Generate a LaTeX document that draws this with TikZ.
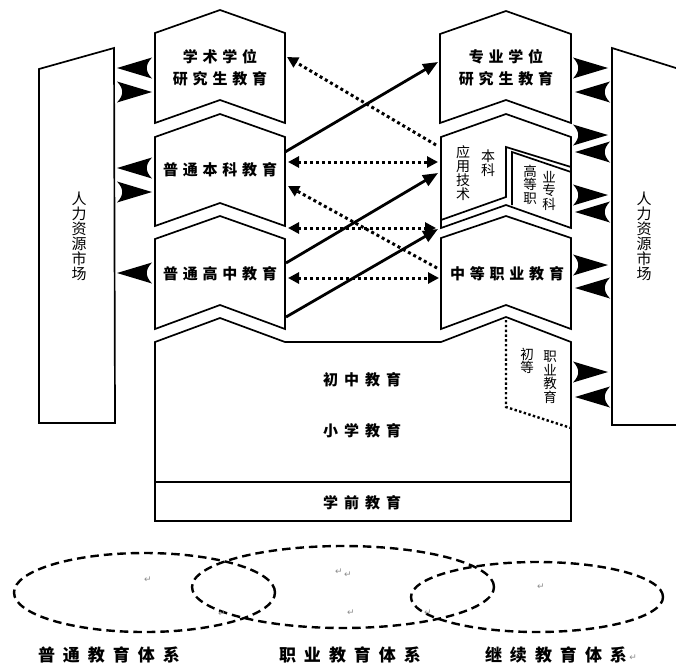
\documentclass[tikz,border=0pt]{standalone}
\usepackage{fontspec}
\newfontfamily\cjk{Noto Sans CJK SC}
\newfontfamily\djv{DejaVu Sans}
\usetikzlibrary{arrows.meta}
\makeatletter
\def\spctext#1#2{\begingroup\def\spc@k{#1}\spc@loop#2\@nil\endgroup}
\def\spc@loop#1#2\@nil{#1\ifx\relax#2\relax\else\kern\spc@k\relax\spc@loop#2\@nil\fi}
\makeatother
\newcommand\mkt[3]{\begin{scope}[shift={(#1,#2)},xscale=#3]\fill (0,0) -- (-35,-10.5) .. controls (-28,-3) and (-28,3) .. (-35,10.5) -- cycle;\end{scope}}
\begin{document}
\begin{tikzpicture}[x=1pt,y=-1pt,
  box/.style={draw,line width=1.7pt,fill=white,line join=miter},
  edge/.style={line width=1.7pt,line join=miter},
  lab/.style={font=\cjk\bfseries\fontsize{15}{18}\selectfont,inner sep=0pt},
  vlab/.style={font=\cjk\fontsize{#1}{#1}\selectfont,inner sep=0pt,align=center},
  solidarr/.style={line width=2.8pt,-{Triangle[length=15pt,width=12pt]}},
  dotline/.style={line width=3pt,dash pattern=on 3pt off 3pt},
  ell/.style={draw,line width=2.4pt,dash pattern=on 8.5pt off 5pt},
  ret/.style={font=\djv\fontsize{9}{10}\selectfont,text=black!45,inner sep=0pt},
  bottomlab/.style={font=\cjk\bfseries\fontsize{17}{20}\selectfont,inner sep=0pt}]
\useasboundingbox (0,0) rectangle (676,667);
\fill[white] (0,0) rectangle (676,667);

% human resource markets
\draw[box] (39,69) -- (114,48) -- (115,423) -- (39,423) -- cycle;
\draw[box] (690,72.4) -- (612,48) -- (612,425) -- (690,425);
\node[vlab=15] (hrl) at (79,236) {\fontsize{15}{17.6}\selectfont 人\\力\\资\\源\\市\\场};
\node[vlab=15] (hrr) at (644,236.5) {\fontsize{15}{17.4}\selectfont 人\\力\\资\\源\\市\\场};

% left column
\draw[box] (155,33) -- (220,10) -- (285,33) -- (285,123) -- (220,100) -- (155,123) -- cycle;
\draw[box] (155,137) -- (220,114) -- (285,137) -- (285,226) -- (220,203) -- (155,226) -- cycle;
\draw[box] (155,239) -- (220,216) -- (285,239) -- (285,329) -- (220,305) -- (155,329) -- cycle;
\node[lab] (xs1) at (220,57) {\spctext{4.8pt}{学术学位}};
\node[lab] (xs2) at (220,79) {\spctext{4.8pt}{研究生教育}};
\node[lab] (bk) at (220,170) {\spctext{4.8pt}{普通本科教育}};
\node[lab] (gz) at (220,274) {\spctext{4.8pt}{普通高中教育}};

% right column
\draw[box] (440,34) -- (506,11) -- (571,34) -- (571,123) -- (506,100) -- (440,123) -- cycle;
\draw[box] (441,137) -- (506,114) -- (571,137) -- (571,228) -- (506,205) -- (441,228) -- cycle;
\draw[edge] (441,220) -- (506,197) -- (506,147) -- (571,167);
\draw[edge] (571,172) -- (512,152) -- (512,205);
\draw[box] (441,238) -- (506,216) -- (571,238) -- (571,329) -- (506,305) -- (441,329) -- cycle;
\node[lab] (zy1) at (506,57) {\spctext{4.8pt}{专业学位}};
\node[lab] (zy2) at (506,79) {\spctext{4.8pt}{研究生教育}};
\node[lab] (zz) at (507,274) {\spctext{4.8pt}{中等职业教育}};
\node[vlab=14] (yy) at (463,173.5) {\fontsize{14}{17.7}\selectfont 应\\用\\技\\术};
\node[vlab=14] (bkk) at (488,163.5) {\fontsize{14}{23}\selectfont 本\\科};
\node[vlab=13.5] (gdz) at (530,184.5) {\fontsize{13.5}{16.2}\selectfont 高\\等\\职};
\node[vlab=13.5] (yzk) at (549,190.5) {\fontsize{13.5}{17.5}\selectfont 业\\专\\科};

% compulsory / preschool block
\draw[box] (155,342) -- (220,318) -- (285,342) -- (441,342) -- (506,317) -- (571,342) -- (571,521) -- (155,521) -- cycle;
\draw[edge] (155,482) -- (571,482);
\draw[line width=2.4pt,dash pattern=on 2.4pt off 2.4pt] (506,320) -- (506,407) -- (571,428);
\node[lab] (cz) at (362,380) {\spctext{6pt}{初中教育}};
\node[lab] (xx) at (362,431) {\spctext{6pt}{小学教育}};
\node[lab] (xq) at (362,503) {\spctext{6pt}{学前教育}};
\node[vlab=13.5] (cd) at (527,361) {\fontsize{13.5}{17}\selectfont 初\\等};
\node[vlab=13.5] (zyjy) at (550,377) {\fontsize{13.5}{16.7}\selectfont 职\\业\\教\\育};

% market arrowheads (left side)
\mkt{117}{68}{-1}
\mkt{152}{92}{1}
\mkt{117}{168}{-1}
\mkt{152}{192}{1}
\mkt{117}{273}{-1}
% market arrowheads (right side)
\mkt{608}{68}{1}
\mkt{575}{92}{-1}
\mkt{608}{135}{1}
\mkt{575}{152}{-1}
\mkt{608}{195}{1}
\mkt{575}{212}{-1}
\mkt{608}{265}{1}
\mkt{575}{288}{-1}
\mkt{608}{372}{1}
\mkt{575}{397}{-1}

% connector end points
\coordinate (bkR1) at (285,152);
\coordinate (zyL) at (438,62);
\coordinate (gzR1) at (286,263);
\coordinate (bkL1) at (438,173);
\coordinate (gzR2) at (286,317);
\coordinate (bkL2) at (438,229);
\coordinate (bkR2) at (288,162);
\coordinate (bkL3) at (438,162);
\coordinate (bkR3) at (288,228);
\coordinate (bkL4) at (436,228);
\coordinate (gzR3) at (288,278);
\coordinate (zzL1) at (439,278);
\coordinate (bkL5) at (436,145);
\coordinate (xsR) at (287,57);
\coordinate (zzL2) at (437,268);
\coordinate (bkR4) at (288,186);

% dotted connectors
\draw[dotline,{Triangle[length=11pt,width=11pt]}-{Triangle[length=11pt,width=11pt]}] (bkR2) -- (bkL3);
\draw[dotline,{Triangle[length=11pt,width=11pt]}-{Triangle[length=11pt,width=11pt]}] (bkR3) -- (bkL4);
\draw[dotline,{Triangle[length=11pt,width=11pt]}-{Triangle[length=11pt,width=11pt]}] (gzR3) -- (zzL1);
\draw[dotline,-{Triangle[length=11pt,width=11pt]}] (bkL5) -- (xsR);
\draw[dotline,-{Triangle[length=11pt,width=11pt]}] (zzL2) -- (bkR4);
% solid connectors
\draw[solidarr] (bkR1) -- (zyL);
\draw[solidarr] (gzR1) -- (bkL1);
\draw[solidarr] (gzR2) -- (bkL2);

% systems
\draw[ell] (144.5,592.5) ellipse [x radius=130.5pt,y radius=39.5pt];
\draw[ell] (343,587) ellipse [x radius=151pt,y radius=41pt];
\draw[ell] (537,597) ellipse [x radius=126pt,y radius=35pt];
\node[ret] (r1) at (148,580) {↵};
\node[ret] (r2) at (222,614) {↵};
\node[ret] (r3) at (339,572) {↵};
\node[ret] (r4) at (348,575) {↵};
\node[ret] (r5) at (351,613) {↵};
\node[ret] (r6) at (428,613) {↵};
\node[ret] (r7) at (541,587) {↵};
\node[bottomlab] (s1) at (109,655) {\spctext{8pt}{普通教育体系}};
\node[bottomlab] (s2) at (350,655) {\spctext{8pt}{职业教育体系}};
\node[bottomlab] (s3) at (556,655) {\spctext{8pt}{继续教育体系}};
\node[ret,anchor=west] (r8) at ([xshift=2pt,yshift=-3pt]s3.east) {↵};
\end{tikzpicture}
\end{document}
